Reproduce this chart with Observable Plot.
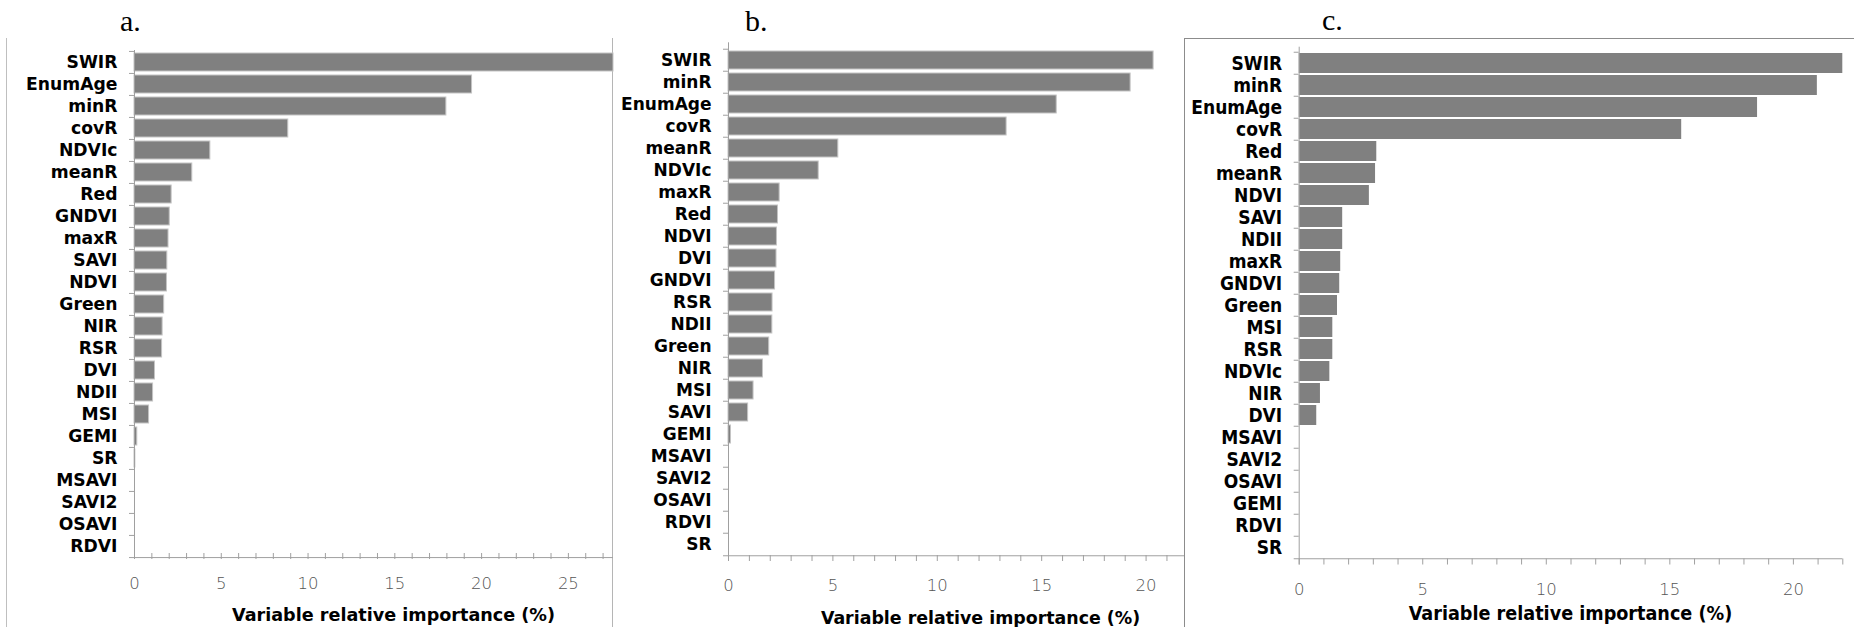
<!DOCTYPE html>
<html>
<head>
<meta charset="utf-8">
<script src="https://cdn.jsdelivr.net/npm/d3@7"></script>
<script src="https://cdn.jsdelivr.net/npm/@observablehq/plot@0.6"></script>
<style>
  html, body { margin: 0; padding: 0; background: #fff; }
  #root { position: relative; width: 1854px; height: 627px; overflow: hidden; background: #fff; }
  .letter { position: absolute; font-family: "Liberation Serif", "Times New Roman", serif; font-size: 30px; line-height: 1; color: #000; }
  .line { position: absolute; }
  #root svg { position: absolute; top: 0; max-width: none; background: transparent; overflow: visible; }
</style>
</head>
<body>
<div id="root">
  <div class="line" style="left:6px;top:38px;height:600px;border-left:1.5px solid #bfbfbf;"></div>
  <div class="line" style="left:612px;top:38px;height:600px;border-left:1.5px solid #b5b5b5;"></div>
  <div class="line" style="left:1184px;top:38px;width:700px;height:600px;border-left:1px solid #8c8c8c;border-top:1.5px solid #8c8c8c;"></div>
  <div class="letter" style="left:120px;top:6px;">a.</div>
  <div class="letter" style="left:745px;top:6px;">b.</div>
  <div class="letter" style="left:1322px;top:5px;">c.</div>
</div>
<script>
// ---- data ----
const catsA = ["SWIR","EnumAge","minR","covR","NDVIc","meanR","Red","GNDVI","maxR","SAVI","NDVI","Green","NIR","RSR","DVI","NDII","MSI","GEMI","SR","MSAVI","SAVI2","OSAVI","RDVI"];
const valsA = [27.6,19.45,17.97,8.86,4.37,3.33,2.14,2.03,1.96,1.89,1.87,1.71,1.62,1.59,1.18,1.07,0.84,0.16,0.05,0,0,0,0];

const catsB = ["SWIR","minR","EnumAge","covR","meanR","NDVIc","maxR","Red","NDVI","DVI","GNDVI","RSR","NDII","Green","NIR","MSI","SAVI","GEMI","MSAVI","SAVI2","OSAVI","RDVI","SR"];
const valsB = [20.36,19.26,15.72,13.32,5.26,4.32,2.45,2.37,2.32,2.30,2.23,2.11,2.10,1.95,1.65,1.20,0.94,0.12,0,0,0,0,0];

const catsC = ["SWIR","minR","EnumAge","covR","Red","meanR","NDVI","SAVI","NDII","maxR","GNDVI","Green","MSI","RSR","NDVIc","NIR","DVI","MSAVI","SAVI2","OSAVI","GEMI","RDVI","SR"];
const valsC = [22.0,20.97,18.55,15.48,3.14,3.09,2.84,1.76,1.76,1.68,1.64,1.55,1.36,1.36,1.24,0.86,0.71,0,0,0,0,0,0];

const ticksA = [0,5,10,15,20,25];
const ticksB = [0,5,10,15,20];
const ticksC = [0,5,10,15,20];
const xMaxA = 27.6, xMaxB = 21.84, xMaxC = 22;
const xTitle = "Variable relative importance (%)";

const H = 627;
function panel(o) {
  const data = o.cats.map((c, i) => ({c, v: o.vals[i]}));
  const step = (H - o.mTop - o.mBottom) / o.cats.length;
  const minor = d3.range(0, Math.floor(o.xmax) + 1);
  const svg = Plot.plot({
    width: o.width, height: H,
    marginLeft: o.mLeft, marginRight: o.mRight, marginTop: o.mTop, marginBottom: o.mBottom,
    x: {domain: [0, o.xmax], axis: null},
    y: {domain: o.cats, paddingInner: o.pad, paddingOuter: o.pad / 2, axis: null},
    style: {background: "transparent", fontFamily: "DejaVu Sans, sans-serif"},
    marks: [
      Plot.barX(data, {x: "v", y: "c", fill: "#808080", stroke: o.barStroke, strokeWidth: 1}),
      Plot.ruleX([0], {stroke: "#a0a0a0"}),
      Plot.ruleY([o.cats[o.cats.length - 1]], {y: d => d, dy: step / 2, insetLeft: -5, stroke: "#a0a0a0"}),
      Plot.axisY({tickSize: 0, tickPadding: 17, fontSize: o.labelSize, fontWeight: "bold", fontFamily: o.labelFont, fill: "#000", label: null}),
      Plot.axisY({tickSize: 5, dy: -step / 2, tickFormat: () => "", stroke: "#a0a0a0", label: null}),
      Plot.axisX({ticks: minor, tickSize: 6, dy: -6, tickFormat: () => "", stroke: "#a0a0a0", label: null}),
      Plot.axisX({ticks: o.ticks, tickSize: 0, tickPadding: 18, fill: "#555", fontSize: 16.5, fontWeight: 200, fontFamily: "DejaVu Sans", label: null}),
      Plot.text([xTitle], {text: d => d, frameAnchor: "bottom", dx: o.titleDx, dy: o.titleDy, lineAnchor: "middle", fontSize: o.titleSize, fontWeight: "bold", fontFamily: o.titleFont, fill: "#000"})
    ]
  });
  svg.style.left = o.left + "px";
  document.getElementById("root").appendChild(svg);
}

panel({cats: catsA, vals: valsA, xmax: xMaxA, ticks: ticksA,
  left: 0, width: 614, mLeft: 134, mRight: 1, mTop: 50, mBottom: 68,
  pad: 0.17, barStroke: "#c4c4c4",
  labelFont: "DejaVu Sans", labelSize: 17.2,
  titleFont: "DejaVu Sans", titleSize: 17.6, titleDx: 19.5, titleDy: 56});

panel({cats: catsB, vals: valsB, xmax: xMaxB, ticks: ticksB,
  left: 614, width: 571, mLeft: 114, mRight: 1, mTop: 42.3, mBottom: 66,
  pad: 0.18, barStroke: "#c4c4c4",
  labelFont: "DejaVu Sans", labelSize: 17,
  titleFont: "DejaVu Sans", titleSize: 17.4, titleDx: 24, titleDy: 57});

panel({cats: catsC, vals: valsC, xmax: xMaxC, ticks: ticksC,
  left: 1185, width: 669, mLeft: 113.7, mRight: 11.7, mTop: 46.7, mBottom: 62.5,
  pad: 0.08, barStroke: "none",
  labelFont: "DejaVu Sans Condensed, DejaVu Sans", labelSize: 19,
  titleFont: "DejaVu Sans Condensed, DejaVu Sans", titleSize: 19.6, titleDx: -0.5, titleDy: 48.5});
</script>
</body>
</html>
